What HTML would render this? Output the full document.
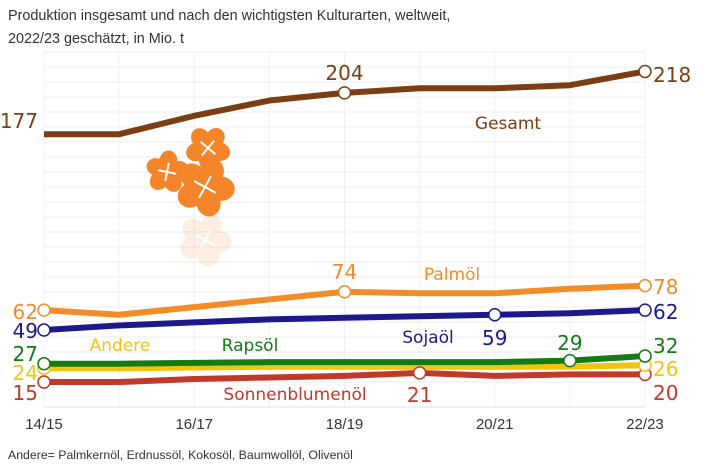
<!DOCTYPE html>
<html><head><meta charset="utf-8"><style>
body{margin:0;background:#fff;}
svg{display:block;font-family:"Liberation Sans",sans-serif;}
</style></head><body>
<svg id="c" width="702" height="464" viewBox="0 0 702 464">
<text x="8" y="20" font-size="14.4" fill="#333">Produktion insgesamt und nach den wichtigsten Kulturarten, weltweit,</text>
<text x="8" y="43" font-size="14.4" fill="#333">2022/23 geschätzt, in Mio. t</text>
<g id="grid"></g>
<g id="flowers"></g>
<g id="series"></g>
<g id="labels"></g>
<text x="8" y="459" font-size="12.3" fill="#333">Andere= Palmkernöl, Erdnussöl, Kokosöl, Baumwollöl, Olivenöl</text>
</svg>
<script>
const categories=["14/15","15/16","16/17","17/18","18/19","19/20","20/21","21/22","22/23"];
const tickLabels=["14/15","16/17","18/19","20/21","22/23"];
const gesamt=[177,177,189,199,204,207,207,209,218];
const palmoel=[62,59,64,69,74,73,73,76,78];
const sojaoel=[49,52,54,56,57,58,59,60,62];
const rapsoel=[27,27,27.5,28,28,28,28,29,32];
const andere=[24,24,24.5,25,25,25,25,25,26];
const sonnenblume=[15,15,17,18,19,21,19,20,20];
const NS="http://www.w3.org/2000/svg";
const X0=44,X1=645;
function xs(i){return X0+i*(X1-X0)/(categories.length-1);}
function ys(v){return 405-1.53*v;}
function mk(tag,attrs,parent){const e=document.createElementNS(NS,tag);for(const k in attrs)e.setAttribute(k,attrs[k]);parent.appendChild(e);return e;}
const grid=document.getElementById('grid');
for(let y=52;y<=392;y+=15){const l=mk('line',{x1:X0,x2:X1,y1:y,y2:y,stroke:'#ececec','stroke-width':1},grid);

}
categories.forEach((c,i)=>{const l=mk('line',{x1:xs(i),x2:xs(i),y1:52,y2:407,stroke:'#f0f0f0','stroke-width':1},grid);

});
mk('line',{x1:X0,x2:X1,y1:407,y2:407,stroke:'#e2e2e2'},grid);
tickLabels.forEach(t=>{const i=categories.indexOf(t);const e=mk('text',{x:xs(i),y:429,'font-size':15,'text-anchor':'middle',fill:'#333'},grid);e.textContent=t;

});
// flowers
const fl=document.getElementById('flowers');
function flower(cx,cy,r,op,rot){const g=mk('g',{opacity:op},fl);for(let k=0;k<5;k++){const a=k*2*Math.PI/5+rot;mk('ellipse',{cx:cx+Math.cos(a)*r*0.55,cy:cy+Math.sin(a)*r*0.55,rx:r*0.48,ry:r*0.42,transform:`rotate(${a*180/Math.PI} ${cx+Math.cos(a)*r*0.55} ${cy+Math.sin(a)*r*0.55})`,fill:'#f5852a'},g);}
mk('circle',{cx:cx,cy:cy,r:r*0.45,fill:'#f5852a'},g);
for(let k=0;k<4;k++){const a=k*Math.PI/2+rot+0.4;mk('line',{x1:cx,y1:cy,x2:cx+Math.cos(a)*r*0.4,y2:cy+Math.sin(a)*r*0.4,stroke:'#fff','stroke-width':2,'stroke-linecap':'round'},g);}}
flower(208,148,22,1,0.3);flower(167,172,21,1,-0.2);flower(205,187,29,1,0.1);
flower(205,240,26,0.13,0.1);
const ser=document.getElementById('series');
const defs=[["gesamt",gesamt,"#7a3e12"],["palmoel",palmoel,"#f28c28"],["sojaoel",sojaoel,"#1a1a8c"],["sonnenblume",sonnenblume,"#c0392b"],["andere",andere,"#f2c40f"],["rapsoel",rapsoel,"#157a15"]];
defs.forEach(([n,d,col])=>{const p=mk('polyline',{points:d.map((v,i)=>xs(i)+','+ys(v)).join(' '),fill:'none',stroke:col,'stroke-width':6,'stroke-linejoin':'round'},ser);

});
const markers=[["gesamt",gesamt,"#7a3e12",[4,8]],["palmoel",palmoel,"#f28c28",[0,4,8]],["sojaoel",sojaoel,"#1a1a8c",[0,6,8]],["sonnenblume",sonnenblume,"#c0392b",[0,5,8]],["andere",andere,"#f2c40f",[0,8]],["rapsoel",rapsoel,"#157a15",[0,7,8]]];
markers.forEach(([n,d,col,idx])=>idx.forEach(i=>{const c=mk('circle',{cx:xs(i),cy:ys(d[i]),r:6,fill:'#fff',stroke:col,'stroke-width':1.5},ser);

}));
const lab=document.getElementById('labels');
function T(x,y,txt,col,anchor,size,name){const e=mk('text',{x:x,y:y,fill:col,'font-size':size||20,'text-anchor':anchor||'middle','font-family':'DejaVu Sans, sans-serif'},lab);e.textContent=txt;

}
const L=xs(0)-6,R=xs(8)+8;
T(L,128,gesamt[0],"#7a3e12","end",20,"value-gesamt-start");
T(xs(4),80,gesamt[4],"#7a3e12","middle",20,"value-gesamt-1819");
T(R,82,gesamt[8],"#7a3e12","start",20,"value-gesamt-end");
T(508,129,"Gesamt","#7a3e12","middle",17,"label-gesamt");
T(L,319,palmoel[0],"#f28c28","end",20,"value-palm-start");
T(xs(4),279,palmoel[4],"#f28c28","middle",20,"value-palm-1819");
T(R,294,palmoel[8],"#f28c28","start",20,"value-palm-end");
T(452,280,"Palmöl","#f28c28","middle",17,"label-palmoel");
T(L,338,sojaoel[0],"#1a1a8c","end",20,"value-soja-start");
T(xs(6),345,sojaoel[6],"#1a1a8c","middle",20,"value-soja-2021");
T(R,319,sojaoel[8],"#1a1a8c","start",20,"value-soja-end");
T(428,343,"Sojaöl","#1a1a8c","middle",17,"label-sojaoel");
T(L,361,rapsoel[0],"#157a15","end",20,"value-raps-start");
T(xs(7),350,rapsoel[7],"#157a15","middle",20,"value-raps-2122");
T(R,353,rapsoel[8],"#157a15","start",20,"value-raps-end");
T(250,351,"Rapsöl","#157a15","middle",17,"label-rapsoel");
T(L,380,andere[0],"#f2c40f","end",20,"value-andere-start");
T(R,376,andere[8],"#f2c40f","start",20,"value-andere-end");
T(120,351,"Andere","#f2c40f","middle",17,"label-andere");
T(L,400,sonnenblume[0],"#c0392b","end",20,"value-sonne-start");
T(xs(5),402,sonnenblume[5],"#c0392b","middle",20,"value-sonne-1920");
T(R,400,sonnenblume[8],"#c0392b","start",20,"value-sonne-end");
T(295,400,"Sonnenblumenöl","#c0392b","middle",17,"label-sonnenblumenoel");
</script>
</body></html>
